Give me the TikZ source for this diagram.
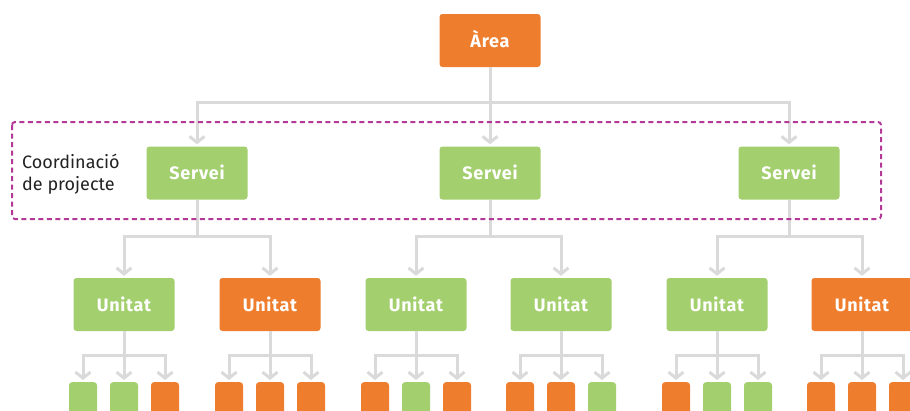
\documentclass[tikz,border=0pt]{standalone}
\usepackage{fontspec}
\setmainfont{Fira Sans}
\newfontfamily\boxfont[LetterSpace=4]{Fira Sans}
\usetikzlibrary{arrows.meta}
\definecolor{orangebox}{HTML}{EE7D2D}
\definecolor{greenbox}{HTML}{A3CF6E}
\definecolor{linegray}{HTML}{DADADA}
\definecolor{framemag}{HTML}{B23A96}
\definecolor{textdark}{HTML}{222222}
\begin{document}
\begin{tikzpicture}[x=1pt,y=-1pt,
  box/.style={rounded corners=3pt, minimum width=101pt, minimum height=53pt,
    inner sep=0pt, text=white, text height=13pt, text depth=0pt,
    font=\boxfont\bfseries\fontsize{18}{20}\selectfont},
  og/.style={box, fill=orangebox},
  gr/.style={box, fill=greenbox},
  tile/.style={rounded corners=3pt, minimum width=28pt, minimum height=32pt,
    inner sep=0pt, anchor=north},
  link/.style={draw=linegray, line width=3pt},
  arr/.style={link, -{Straight Barb[length=6pt,width=15pt]}, shorten >=2pt},
  frame/.style={draw=framemag, line width=2pt, rounded corners=3pt,
    dash pattern=on 5pt off 3.5pt},
]
\useasboundingbox (0,0) rectangle (910,410);
\clip (0,0) rectangle (910,410);

% top level
\node[og] (area) at (490,40.5) {Àrea};

% services
\node[gr] (s1) at (197,173) {Servei};
\node[gr] (s2) at (490,173) {Servei};
\node[gr] (s3) at (789,173) {Servei};

% units
\node[gr] (u1) at (124,304.5) {Unitat};
\node[og] (u2) at (270,304.5) {Unitat};
\node[gr] (u3) at (416,304.5) {Unitat};
\node[gr] (u4) at (561,304.5) {Unitat};
\node[gr] (u5) at (717,304.5) {Unitat};
\node[og] (u6) at (862,304.5) {Unitat};

% area -> services
\draw[arr] (area.south) -- (s2.north);
\draw[arr] (area.south) -- ++(0,35) -| (s1.north);
\draw[arr] (area.south) -- ++(0,35) -| (s3.north);

% services -> units
\draw[arr] (s1.south) -- ++(0,37) -| (u1.north);
\draw[arr] (s1.south) -- ++(0,37) -| (u2.north);
\draw[arr] (s2.south) -- ++(0,37) -| (u3.north);
\draw[arr] (s2.south) -- ++(0,37) -| (u4.north);
\draw[arr] (s3.south) -- ++(0,37) -| (u5.north);
\draw[arr] (s3.south) -- ++(0,37) -| (u6.north);

% units -> tasks
\foreach \i/\cx/\ca/\cb/\cc in {
    1/124/greenbox/greenbox/orangebox,
    2/270/orangebox/orangebox/orangebox,
    3/416/orangebox/greenbox/orangebox,
    4/561/orangebox/orangebox/greenbox,
    5/717/orangebox/greenbox/greenbox,
    6/862/orangebox/orangebox/orangebox} {
  \node[tile, fill=\ca] (ta\i) at (\cx-41,382) {};
  \node[tile, fill=\cb] (tb\i) at (\cx,382) {};
  \node[tile, fill=\cc] (tc\i) at (\cx+41,382) {};
  \draw[arr] (u\i.south) -- (tb\i.north);
  \draw[arr] (u\i.south) -- ++(0,24) -| (ta\i.north);
  \draw[arr] (u\i.south) -- ++(0,24) -| (tc\i.north);
}

% project coordination frame
\node[anchor=west, align=left, inner sep=0pt, text=textdark,
  font=\fontsize{18}{22}\selectfont] (coord) at (22,174) {Coordinació\\de projecte};
\draw[frame] (12,122) rectangle (881,219);
\end{tikzpicture}
\end{document}
